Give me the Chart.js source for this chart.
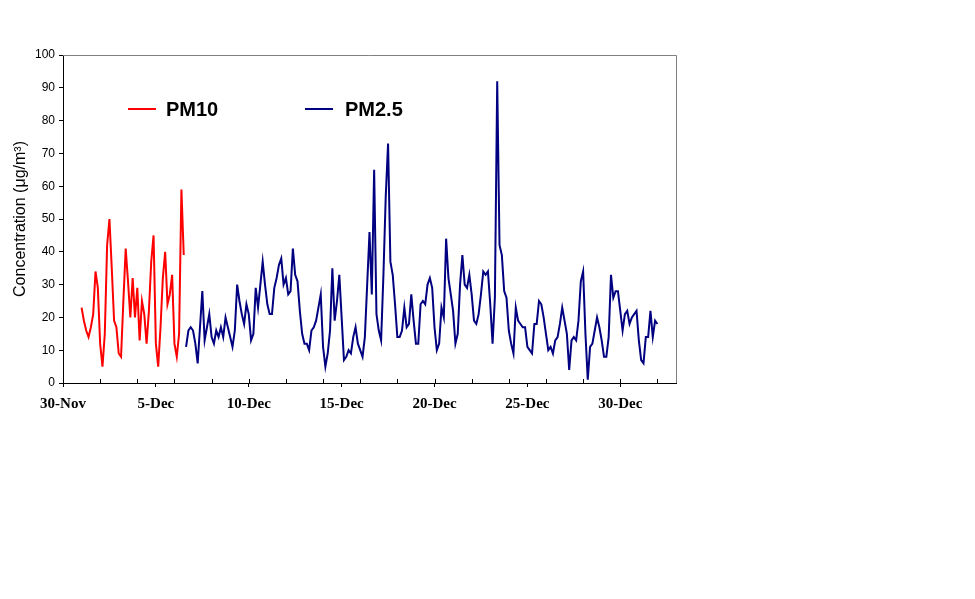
<!DOCTYPE html>
<html>
<head>
<meta charset="utf-8">
<script src="https://cdn.jsdelivr.net/npm/chart.js@4.4.1/dist/chart.umd.min.js"></script>
<style>
  html, body { margin: 0; padding: 0; background: #fff; }
  #wrap { width: 975px; height: 599px; }
</style>
</head>
<body>
<div id="wrap"><canvas id="myChart" width="975" height="599"></canvas></div>
<script>
// Date axis: day 0 = 30-Nov 00:00
const tickDays = [0, 5, 10, 15, 20, 25, 30];
const tickLabels = ['30-Nov', '5-Dec', '10-Dec', '15-Dec', '20-Dec', '25-Dec', '30-Dec'];

// Readings every 3 hours (ug/m3)
const stepDays = 0.125;

const pm10Start = 1.0; // 1-Dec 00:00
const pm10Values = [
    23, 19, 16, 14, 17, 21, 34, 29, 12, 5,
    15, 42, 50, 35, 19, 17, 9, 8, 25, 41,
    31, 20, 32, 20, 29, 13, 25, 21, 12, 22,
    37, 45, 12, 5, 17, 32, 40, 24, 27, 33,
    12, 8, 15, 59, 39
];

const pm25Start = 6.625; // 6-Dec 15:00
const pm25Values = [
    11, 16, 17, 16, 12, 6, 17, 28, 13, 17,
    21, 14, 12, 16, 14, 17, 14, 20, 17, 14,
    11, 16, 30, 25, 21, 18, 24, 21, 13, 15,
    29, 23, 30, 37, 30, 24, 21, 21, 29, 32,
    36, 38, 30, 32, 27, 28, 41, 33, 31, 22,
    15, 12, 12, 10, 16, 17, 19, 23, 27, 11,
    5, 9, 16, 35, 19, 25, 33, 20, 7, 8,
    10, 9, 14, 17, 12, 10, 8, 14, 30, 46,
    27, 65, 21, 16, 13, 33, 57, 73, 37, 33,
    24, 14, 14, 16, 23, 17, 18, 27, 19, 12,
    12, 24, 25, 24, 30, 32, 29, 17, 10, 12,
    23, 20, 44, 32, 27, 22, 12, 15, 30, 39,
    30, 29, 33, 27, 19, 18, 21, 27, 34, 33,
    34, 24, 12, 26, 92, 42, 39, 28, 26, 16,
    12, 9, 23, 19, 18, 17, 17, 11, 10, 9,
    18, 18, 25, 24, 20, 15, 10, 11, 9, 13,
    14, 18, 23, 19, 15, 4, 13, 14, 13, 19,
    31, 34, 15, 1, 11, 12, 16, 20, 17, 13,
    8, 8, 14, 33, 26, 28, 28, 22, 16, 21,
    22, 18, 20, 21, 22, 13, 7, 6, 14, 14,
    22, 14, 19, 18
];

function toPoints(start, values) {
    return values.map((v, i) => ({ x: start + i * stepDays, y: v }));
}

// Grey frame on top/right, inward minor ticks every 2 days, and the legend inside the plot
const extras = {
    id: 'extras',
    afterDraw(chart) {
        const { ctx, chartArea: a, scales } = chart;
        const x = scales.x;
        ctx.save();
        ctx.lineWidth = 1;
        ctx.strokeStyle = '#808080';
        ctx.beginPath();
        ctx.moveTo(a.left, a.top + 0.5);
        ctx.lineTo(a.right + 0.5, a.top + 0.5);
        ctx.lineTo(a.right + 0.5, a.bottom);
        ctx.stroke();

        ctx.strokeStyle = '#000';
        ctx.beginPath();
        for (let d = 2; d < x.max; d += 2) {
            const px = Math.round(x.getPixelForValue(d)) + 0.5;
            ctx.moveTo(px, a.bottom);
            ctx.lineTo(px, a.bottom - 4);
        }
        ctx.stroke();

        // legend entries: [line start x, text x]
        const spots = [[128, 166], [305, 345]];
        ctx.font = 'bold 20px "Liberation Sans", Arial, sans-serif';
        ctx.textBaseline = 'alphabetic';
        ctx.fillStyle = '#000';
        chart.data.datasets.forEach((ds, k) => {
            const [lx, tx] = spots[k];
            ctx.strokeStyle = ds.borderColor;
            ctx.lineWidth = 2;
            ctx.beginPath();
            ctx.moveTo(lx, 109);
            ctx.lineTo(lx + 28, 109);
            ctx.stroke();
            ctx.fillText(ds.label, tx, 116);
        });
        ctx.restore();
    }
};

const config = {
    type: 'line',
    data: {
        datasets: [
            {
                label: 'PM10',
                data: toPoints(pm10Start, pm10Values),
                borderColor: '#ff0000',
                borderWidth: 2,
                pointRadius: 0,
                tension: 0,
                fill: false
            },
            {
                label: 'PM2.5',
                data: toPoints(pm25Start, pm25Values),
                borderColor: '#000080',
                borderWidth: 2,
                pointRadius: 0,
                tension: 0,
                fill: false
            }
        ]
    },
    options: {
        responsive: false,
        animation: false,
        devicePixelRatio: 1,
        layout: { padding: { top: 55, right: 299, left: 0, bottom: 0 } },
        plugins: {
            legend: { display: false },
            tooltip: { enabled: false }
        },
        scales: {
            x: {
                type: 'linear',
                min: 0,
                max: 33,
                afterFit: s => { s.height = 216; },
                afterBuildTicks: s => { s.ticks = tickDays.map(v => ({ value: v })); },
                border: { color: '#000', width: 1 },
                grid: { drawOnChartArea: false, drawTicks: true, tickLength: 4, color: '#000' },
                ticks: {
                    autoSkip: false,
                    maxRotation: 0,
                    padding: 8,
                    color: '#000',
                    font: { family: '"Liberation Serif", "Times New Roman", serif', size: 15, weight: 'bold' },
                    callback: v => tickLabels[tickDays.indexOf(v)]
                }
            },
            y: {
                min: 0,
                max: 100,
                afterFit: s => { s.width = 63; },
                border: { color: '#000', width: 1 },
                grid: { drawOnChartArea: false, drawTicks: true, tickLength: 4, color: '#000' },
                ticks: {
                    stepSize: 10,
                    padding: 4,
                    color: '#000',
                    font: { family: '"Liberation Sans", Arial, sans-serif', size: 12 }
                },
                title: {
                    display: true,
                    text: 'Concentration (\u03bcg/m\u00b3)',
                    color: '#000',
                    padding: { top: 11, bottom: 0 },
                    font: { family: '"Liberation Sans", Arial, sans-serif', size: 16 }
                }
            }
        }
    },
    plugins: [extras]
};

const myChart = new Chart(document.getElementById('myChart'), config);
</script>
</body>
</html>
